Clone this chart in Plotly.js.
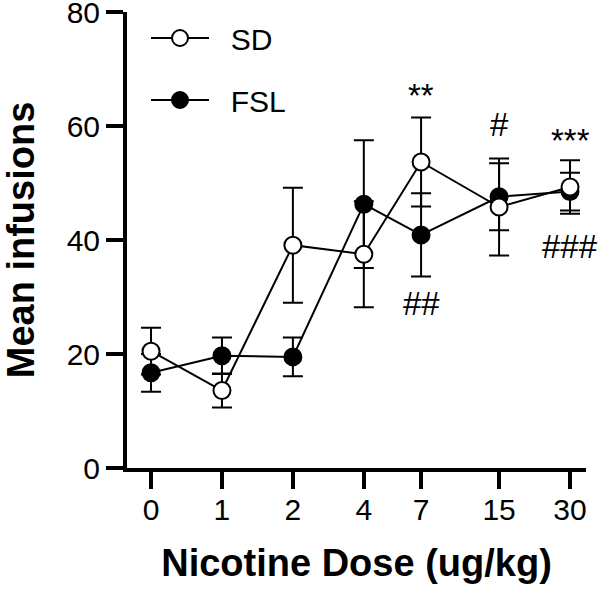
<!DOCTYPE html>
<html>
<head>
<meta charset="utf-8">
<script src="https://cdn.plot.ly/plotly-3.0.1.min.js"></script>
<style>html,body{margin:0;padding:0;background:#fff;}#chart{width:600px;height:592px;}</style>
</head>
<body>
<div id="chart"></div>
<script>
// Nicotine doses (ug/kg) and tick labels
const doses = [0, 1, 2, 4, 7, 15, 30];
const doseLabels = ['0', '1', '2', '4', '7', '15', '30'];
const yTicks = [0, 20, 40, 60, 80];

// SD rats: mean infusions and SEM
const sdMean = [20.5, 13.6, 39.1, 37.5, 53.7, 45.8, 49.3];
const sdErr  = [4.1, 3.0, 10.1, 9.3, 7.8, 8.5, 4.7];

// FSL rats: mean infusions and SEM
const fslMean = [16.7, 19.7, 19.5, 46.3, 40.9, 47.6, 48.5];
const fslErr  = [3.3, 3.2, 3.4, 11.2, 7.3, 5.9, 3.3];

// Significance marks
const sigAbove = [{dose: 7, text: '**'}, {dose: 15, text: '#'}, {dose: 30, text: '***'}];
const sigBelow = [{dose: 7, text: '##'}, {dose: 30, text: '###'}];

// Zero dose is placed half a doubling below the smallest non-zero dose on the log axis
const minNonZero = Math.min(...doses.filter(d => d > 0));
const xPos = doses.map(d => d === 0 ? minNonZero / 2 : d);

const FONT = 'Arial, "Liberation Sans", Helvetica, sans-serif';
const NBSP = '\u00A0';

function series(name, y, err, fill, rank) {
  return {
    type: 'scatter', mode: 'lines+markers', name: NBSP + NBSP + name,
    x: xPos, y: y,
    legendgroup: name, legendrank: rank,
    line: {color: '#000', width: 2},
    marker: {symbol: 'circle', size: 17, color: fill, line: {color: '#000', width: 2}},
    error_y: {type: 'data', array: err, visible: true, color: '#000', thickness: 2, width: 10},
    cliponaxis: false
  };
}

const traces = [
  series('FSL', fslMean, fslErr, '#000', 2),
  series('SD', sdMean, sdErr, '#fff', 1)
];

// text label heights (data units)
const labelY = {'**': 65.3, '#': 60.2, '***': 57.5, '##': 28.9, '###': 38.9};

const annotations = [];
sigAbove.concat(sigBelow).forEach(s => annotations.push({
  x: Math.log10(s.dose), y: labelY[s.text], xref: 'x', yref: 'y',
  text: s.text, showarrow: false, xanchor: 'center', yanchor: 'middle',
  font: {family: FONT, size: 33, color: '#000'}
}));

const layout = {
  width: 600, height: 592,
  margin: {l: 127, r: 14, t: 12, b: 124},
  paper_bgcolor: '#fff', plot_bgcolor: '#fff',
  font: {family: FONT, color: '#000'},
  showlegend: true,
  legend: {
    x: 0.0414, y: 1.0, xanchor: 'left', yanchor: 'top',
    font: {family: FONT, size: 30, color: '#000'},
    traceorder: 'grouped', tracegroupgap: 20,
    itemwidth: 58,
    bgcolor: 'rgba(0,0,0,0)', borderwidth: 0
  },
  xaxis: {
    type: 'log', range: [-0.403, 1.545],
    tickmode: 'array', tickvals: xPos, ticktext: doseLabels,
    ticks: 'outside', ticklen: 17, tickwidth: 4, tickcolor: '#000',
    ticklabelstandoff: -5, ticklabeloverflow: 'allow',
    showline: true, linewidth: 4, linecolor: '#000',
    showgrid: false, zeroline: false,
    tickfont: {family: FONT, size: 30, color: '#000'},
    title: {text: '<b>Nicotine Dose (ug/kg)</b>', font: {family: FONT, size: 38, color: '#000'}, standoff: 25}
  },
  yaxis: {
    range: [0, 80.02], tickmode: 'array', tickvals: yTicks, ticktext: yTicks.map(String),
    ticks: 'outside', ticklen: 17, tickwidth: 4, tickcolor: '#000',
    ticklabeloverflow: 'allow',
    showline: true, linewidth: 4, linecolor: '#000',
    showgrid: false, zeroline: false,
    tickfont: {family: FONT, size: 30, color: '#000'},
    title: {text: '<b>Mean infusions</b>', font: {family: FONT, size: 38, color: '#000'}, standoff: 40}
  },
  annotations: annotations
};

Plotly.newPlot('chart', traces, layout, {displayModeBar: false, staticPlot: true});
</script>
</body>
</html>
